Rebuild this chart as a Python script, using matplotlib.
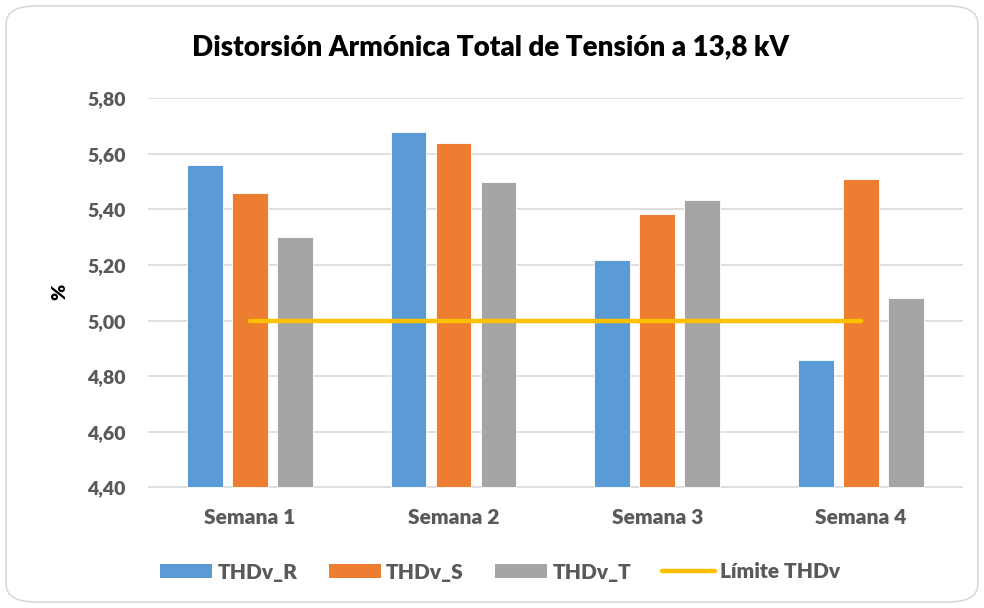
import numpy as np
import matplotlib
matplotlib.use("Agg")
import matplotlib.pyplot as plt
from matplotlib.patches import Patch, FancyBboxPatch
from matplotlib.lines import Line2D
from matplotlib.ticker import FuncFormatter

plt.rcParams['font.family'] = ['Lato', 'DejaVu Sans']

# datos
semanas = ['Semana 1', 'Semana 2', 'Semana 3', 'Semana 4']
thdv_r = [5.56, 5.68, 5.22, 4.86]
thdv_s = [5.46, 5.64, 5.385, 5.51]
thdv_t = [5.30, 5.50, 5.435, 5.08]
limite = [5.00, 5.00, 5.00, 5.00]
series = ['THDv_R', 'THDv_S', 'THDv_T']
colores = ['#5B9BD5', '#ED7D31', '#A5A5A5']
col_lim = '#FFC000'
gris_txt = '#595959'

fig = plt.figure(figsize=(9.84, 6.08), dpi=100)
ax = fig.add_axes([148/984, 1-487.5/608, (962.7-148)/984, (487.5-98.3)/608])

x = np.arange(len(semanas))
ancho = 0.174
paso = 0.221
for i, (vals, c) in enumerate(zip([thdv_r, thdv_s, thdv_t], colores)):
    ax.bar(x + (i-1)*paso, np.array(vals) - 4.40, bottom=4.40, width=ancho,
           color=c, edgecolor='white', linewidth=0.6, zorder=3)

ax.plot(x, limite, color=col_lim, lw=3.2, solid_capstyle='round', zorder=4)

ax.set_xlim(-0.5, 3.5)
ax.set_ylim(4.40, 5.80)
ax.set_yticks(np.arange(4.40, 5.81, 0.20))
ax.yaxis.set_major_formatter(FuncFormatter(lambda v, p: f'{v:.2f}'.replace('.', ',')))
ax.set_xticks(x)
ax.set_xticklabels(semanas)
ax.grid(axis='y', color='#D9D9D9', lw=1.2, zorder=0)
for s in ax.spines.values():
    s.set_visible(False)
ax.tick_params(axis='both', length=0, labelcolor=gris_txt)
ax.tick_params(axis='y', pad=16, labelsize=14)
ax.tick_params(axis='x', pad=15, labelsize=15)
for t in ax.get_xticklabels() + ax.get_yticklabels():
    t.set_fontweight('heavy')

fig.text(60/984, 1-292/608, '%', rotation=90, ha='center', va='center',
         fontsize=14, fontweight='heavy', color='black')
fig.text(491/984, 1-47/608, 'Distorsión Armónica Total de Tensión a 13,8 kV',
         ha='center', va='center', fontsize=20, fontweight='heavy', color='black')

handles = [Patch(facecolor=c, edgecolor='none') for c in colores]
handles.append(Line2D([], [], color=col_lim, lw=3.2, solid_capstyle='round'))
leg = fig.legend(handles, series + ['Límite THDv'], loc='center',
                 bbox_to_anchor=(500/984, 1-572/608), ncol=4, frameon=False,
                 fontsize=15, handlelength=2.5, handleheight=0.62,
                 handletextpad=0.25, columnspacing=1.5)
for t in leg.get_texts():
    t.set_color(gris_txt)
    t.set_fontweight('heavy')

borde = FancyBboxPatch((6/984, 6/608), 972/984, 596/608,
                       boxstyle='round,pad=0,rounding_size=0.03',
                       transform=fig.transFigure, facecolor='none',
                       edgecolor='#D9D9D9', lw=1.2)
fig.patches.append(borde)

fig.savefig('out.png', dpi=100)
